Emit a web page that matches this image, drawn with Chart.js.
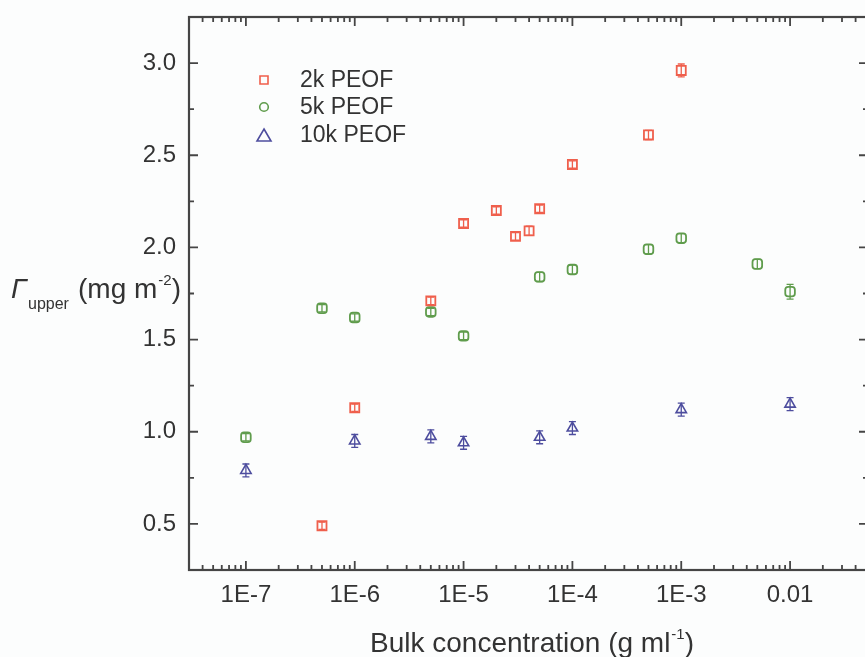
<!DOCTYPE html>
<html>
<head>
<meta charset="utf-8">
<script src="https://cdn.jsdelivr.net/npm/chart.js@4/dist/chart.umd.min.js"></script>
<style>
html,body{margin:0;padding:0;overflow:hidden;background:#fcfdfd;}
#wrap{position:absolute;left:0;top:0;width:880px;height:657px;}
</style>
</head>
<body>
<div id="wrap"><canvas id="c" width="880" height="657"></canvas></div>
<script>
// ---- data ----
const seriesNames = ['2k PEOF', '5k PEOF', '10k PEOF'];

const conc2k  = [5e-7, 1e-6, 5e-6, 1e-5, 2e-5, 3e-5, 4e-5, 5e-5, 1e-4, 5e-4, 1e-3];
const gamma2k = [0.49, 1.13, 1.71, 2.13, 2.20, 2.06, 2.09, 2.21, 2.45, 2.61, 2.96];
const err2k   = [0.02, 0.02, 0.02, 0.02, 0.02, 0.02, 0.025, 0.02, 0.02, 0.025, 0.035];

const conc5k  = [1e-7, 5e-7, 1e-6, 5e-6, 1e-5, 5e-5, 1e-4, 5e-4, 1e-3, 5e-3, 1e-2];
const gamma5k = [0.97, 1.67, 1.62, 1.65, 1.52, 1.84, 1.88, 1.99, 2.05, 1.91, 1.76];
const err5k   = [0.02, 0.02, 0.02, 0.02, 0.02, 0.025, 0.025, 0.025, 0.025, 0.025, 0.04];

const conc10k  = [1e-7, 1e-6, 5e-6, 1e-5, 5e-5, 1e-4, 1e-3, 1e-2];
const gamma10k = [0.79, 0.95, 0.975, 0.94, 0.97, 1.02, 1.12, 1.15];
const err10k   = [0.035, 0.035, 0.035, 0.035, 0.035, 0.035, 0.035, 0.035];

const xTickValues = [1e-7, 1e-6, 1e-5, 1e-4, 1e-3, 1e-2];
const xTickLabels = ['1E-7', '1E-6', '1E-5', '1E-4', '1E-3', '0.01'];
const yTickValues = [0.5, 1.0, 1.5, 2.0, 2.5, 3.0];
const yTickLabels = ['0.5', '1.0', '1.5', '2.0', '2.5', '3.0'];

// ---- styles ----
const colRed = '#ef5f4c', colGreen = '#5f9c4c', colBlue = '#4d4d9e';
const axisCol = '#454545', textCol = '#333333';
const FONT = "'Liberation Sans', Arial, sans-serif";

function pts(xs, ys, es) { return xs.map((x, i) => ({x: x, y: ys[i], e: es[i]})); }

const datasets = [
  {label: seriesNames[0], data: pts(conc2k, gamma2k, err2k), pointStyle: 'rect', pointRadius: 6.4,
   borderColor: colRed, backgroundColor: 'rgba(0,0,0,0)', pointBorderWidth: 1.8, showLine: false, legendShape: 'square'},
  {label: seriesNames[1], data: pts(conc5k, gamma5k, err5k), pointStyle: 'rectRounded', pointRadius: 5.6,
   borderColor: colGreen, backgroundColor: 'rgba(0,0,0,0)', pointBorderWidth: 1.8, showLine: false, legendShape: 'circle'},
  {label: seriesNames[2], data: pts(conc10k, gamma10k, err10k), pointStyle: 'triangle', pointRadius: 6,
   borderColor: colBlue, backgroundColor: 'rgba(0,0,0,0)', pointBorderWidth: 1.6, showLine: false, legendShape: 'triangle'}
];

// error bars, frame, inward ticks, titles, legend
const decor = {
  id: 'decor',
  beforeDatasetsDraw(chart) {
    const ctx = chart.ctx, xs = chart.scales.x, ys = chart.scales.y;
    ctx.save();
    chart.data.datasets.forEach(ds => {
      ctx.strokeStyle = ds.borderColor; ctx.lineWidth = 1.3;
      ds.data.forEach(p => {
        const px = xs.getPixelForValue(p.x);
        const y1 = ys.getPixelForValue(p.y - p.e), y2 = ys.getPixelForValue(p.y + p.e);
        ctx.beginPath();
        ctx.moveTo(px, y1); ctx.lineTo(px, y2);
        ctx.moveTo(px - 3.5, y1); ctx.lineTo(px + 3.5, y1);
        ctx.moveTo(px - 3.5, y2); ctx.lineTo(px + 3.5, y2);
        ctx.stroke();
      });
    });
    ctx.restore();
  },
  afterDraw(chart) {
    const ctx = chart.ctx, a = chart.chartArea, xs = chart.scales.x, ys = chart.scales.y;
    ctx.save();
    ctx.strokeStyle = axisCol;
    ctx.lineWidth = 2.2;
    ctx.strokeRect(a.left, a.top, a.right - a.left, a.bottom - a.top);
    ctx.lineWidth = 1.8;
    // x ticks
    for (let e = -9; e <= 0; e++) {
      for (let k = 1; k <= 9; k++) {
        const v = k * Math.pow(10, e);
        if (v < xs.min || v > xs.max) continue;
        const px = xs.getPixelForValue(v);
        const L = k === 1 ? 9 : 5;
        ctx.beginPath();
        ctx.moveTo(px, a.bottom); ctx.lineTo(px, a.bottom - L);
        ctx.moveTo(px, a.top); ctx.lineTo(px, a.top + L);
        ctx.stroke();
      }
    }
    // y ticks
    for (let v = 0.25; v <= 3.25 + 1e-9; v += 0.25) {
      const py = ys.getPixelForValue(v);
      const major = Math.abs(v * 2 - Math.round(v * 2)) < 1e-6;
      const L = major ? 9 : 5;
      ctx.beginPath();
      ctx.moveTo(a.left, py); ctx.lineTo(a.left + L, py);
      ctx.moveTo(a.right, py); ctx.lineTo(a.right - L, py);
      ctx.stroke();
    }
    // x title
    ctx.fillStyle = textCol;
    ctx.textBaseline = 'alphabetic';
    const main = 'Bulk concentration (g ml', sup = '-1', end = ')';
    ctx.font = '28px ' + FONT;
    const w1 = ctx.measureText(main).width;
    ctx.font = '15px ' + FONT;
    const w2 = ctx.measureText(sup).width;
    const x0 = 370, by = 652;
    ctx.font = '28px ' + FONT; ctx.fillText(main, x0, by);
    ctx.font = '15px ' + FONT; ctx.fillText(sup, x0 + w1 + 1, by - 13);
    ctx.font = '28px ' + FONT; ctx.fillText(end, x0 + w1 + w2 + 1, by);
    // y title
    const yb = 298;
    ctx.font = 'italic 28px ' + FONT; ctx.fillText('\u0393', 11, yb);
    ctx.font = '16px ' + FONT; ctx.fillText('upper', 28, yb + 11);
    ctx.font = '28px ' + FONT;
    const t1 = '(mg m'; ctx.fillText(t1, 78, yb);
    const tw = ctx.measureText(t1).width;
    ctx.font = '15px ' + FONT; ctx.fillText('-2', 78 + tw + 1, yb - 13);
    const sw = ctx.measureText('-2').width;
    ctx.font = '28px ' + FONT; ctx.fillText(')', 78 + tw + sw + 1, yb);
    // legend
    const lx = 264, ly = [80, 107, 135];
    chart.data.datasets.forEach((ds, i) => {
      const cy = ly[i];
      ctx.strokeStyle = ds.borderColor; ctx.lineWidth = 1.6;
      ctx.beginPath();
      if (ds.legendShape === 'square') ctx.rect(lx - 4, cy - 4, 8, 8);
      else if (ds.legendShape === 'circle') ctx.arc(lx, cy, 4.3, 0, Math.PI * 2);
      else { ctx.moveTo(lx, cy - 6); ctx.lineTo(lx + 7, cy + 6); ctx.lineTo(lx - 7, cy + 6); ctx.closePath(); }
      ctx.stroke();
      ctx.fillStyle = textCol;
      ctx.font = '23px ' + FONT;
      ctx.textBaseline = 'middle';
      ctx.fillText(ds.label, 300, cy + 1);
    });
    ctx.restore();
  }
};

new Chart(document.getElementById('c'), {
  type: 'scatter',
  data: {datasets: datasets},
  options: {
    responsive: false,
    animation: false,
    layout: {padding: {top: 17, right: 12, left: 0, bottom: 0}},
    plugins: {legend: {display: false}, tooltip: {enabled: false}},
    scales: {
      x: {
        type: 'logarithmic', min: 3.1e-8, max: 0.052,
        afterBuildTicks(s) { s.ticks = xTickValues.map(v => ({value: v})); },
        afterFit(s) { s.height = 87; s.paddingLeft = 0; s.paddingRight = 0; },
        grid: {display: false, drawTicks: false},
        border: {display: false},
        ticks: {
          autoSkip: false, maxRotation: 0, padding: 11, color: textCol,
          font: {family: FONT, size: 24},
          callback: (v) => { const i = xTickValues.findIndex(t => Math.abs(t - v) / t < 1e-6); return i >= 0 ? xTickLabels[i] : ''; }
        }
      },
      y: {
        type: 'linear', min: 0.25, max: 3.25,
        afterBuildTicks(s) { s.ticks = yTickValues.map(v => ({value: v})); },
        afterFit(s) { s.width = 189; s.paddingTop = 0; s.paddingBottom = 0; },
        grid: {display: false, drawTicks: false},
        border: {display: false},
        ticks: {
          padding: 13, color: textCol, font: {family: FONT, size: 24},
          callback: (v) => { const i = yTickValues.findIndex(t => Math.abs(t - v) < 1e-6); return i >= 0 ? yTickLabels[i] : ''; }
        }
      }
    }
  },
  plugins: [decor]
});
</script>
</body>
</html>
